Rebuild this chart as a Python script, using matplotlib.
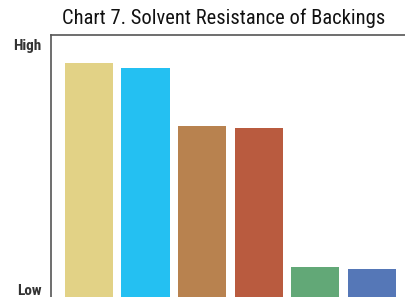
import matplotlib
matplotlib.use("Agg")
import matplotlib.pyplot as plt
from matplotlib import font_manager

categories = ["A", "B", "C", "D", "E", "F"]
values = [8.93, 8.74, 6.53, 6.45, 1.15, 1.07]
colors = ["#E2D286", "#24C0F2", "#B8824F", "#B95B3F", "#62A877", "#5577B7"]
tick_labels = ["Low", "High"]
tick_values = [0.27, 9.62]

names = {f.name for f in font_manager.fontManager.ttflist}
cands = ["Roboto Condensed", "Archivo Narrow", "PT Sans Narrow", "Liberation Sans Narrow"]
found = [c for c in cands if c in names]
fam = found[0] if found else "DejaVu Sans"

fig = plt.figure(figsize=(4.06, 2.97), dpi=100)
ax = fig.add_axes([51/406, 0.0, 1 - 51/406, 1 - 35/297])
x = list(range(len(categories)))
ax.bar(x, values, width=0.85, color=colors)
ax.set_xlim(-0.67, 5.6)
ax.set_ylim(0, 10)
ax.set_xticks([])
ax.set_yticks(tick_values)
ax.set_yticklabels(tick_labels, fontfamily=fam, fontsize=11, fontweight="bold", color="#333333")
ax.tick_params(axis="y", length=0, pad=7)
for s in ["right", "bottom"]:
    ax.spines[s].set_visible(False)
ax.spines["left"].set_color("#555555")
ax.spines["top"].set_color("#555555")
ax.spines["left"].set_linewidth(1.2)
ax.spines["top"].set_linewidth(1.2)
fig.text(62/406, 1 - 18/297, "Chart 7. Solvent Resistance of Backings", fontfamily=fam,
         fontsize=14.8, color="#111111", va="center", ha="left")
fig.savefig("out.png", dpi=100)
